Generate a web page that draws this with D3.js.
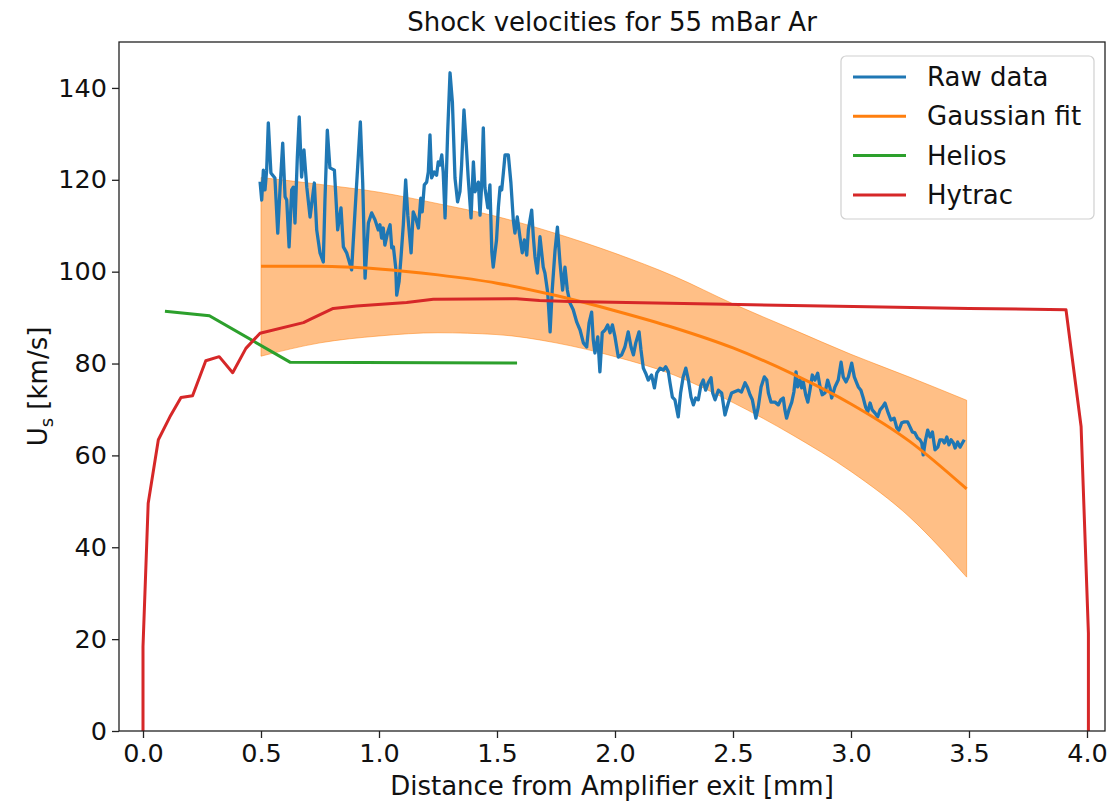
<!DOCTYPE html>
<html>
<head>
<meta charset="utf-8">
<script src="https://cdn.jsdelivr.net/npm/d3@7"></script>
<style>
  html, body { margin: 0; padding: 0; background: #fff; }
  svg { display: block; font-family: "DejaVu Sans", sans-serif; }
</style>
</head>
<body>
<svg id="chart" width="1117" height="802"></svg>
<script>
// ---------- data ----------
const title = "Shock velocities for 55 mBar Ar";
const xLabel = "Distance from Amplifier exit [mm]";
const xTicks = [0.0, 0.5, 1.0, 1.5, 2.0, 2.5, 3.0, 3.5, 4.0];
const yTicks = [0, 20, 40, 60, 80, 100, 120, 140];
const seriesNames = ["Raw data", "Gaussian fit", "Helios", "Hytrac"];
const seriesColors = ["#1f77b4", "#ff7f0e", "#2ca02c", "#d62728"];

// Raw data [mm, km/s]
const rawData = [
[0.496,119.6],[0.503,115.6],[0.510,122.1],[0.517,117.8],[0.524,122.1],[0.531,132.4],[0.542,121.5],[0.559,120.4],
[0.571,108.4],[0.581,118.4],[0.592,128.0],[0.602,116.3],[0.609,115.6],[0.619,105.4],[0.630,117.8],[0.637,118.4],
[0.644,110.6],[0.654,125.0],[0.662,133.7],[0.672,120.6],[0.682,126.5],[0.694,118.4],[0.708,111.9],[0.726,119.3],
[0.736,109.1],[0.750,104.1],[0.764,102.1],[0.771,115.6],[0.781,130.8],[0.792,122.6],[0.811,122.1],[0.825,109.1],
[0.839,113.9],[0.849,105.4],[0.863,104.1],[0.884,100.4],[0.898,112.8],[0.921,132.6],[0.931,119.3],[0.941,98.6],
[0.955,110.6],[0.969,112.8],[0.983,111.3],[0.997,109.1],[1.004,110.2],[1.011,107.3],[1.018,109.5],[1.025,105.8],
[1.037,108.6],[1.047,110.2],[1.054,105.2],[1.061,105.4],[1.071,100.8],[1.075,94.9],[1.085,97.8],[1.093,103.0],
[1.103,110.2],[1.113,120.0],[1.122,112.3],[1.136,104.1],[1.145,113.0],[1.155,111.7],[1.167,109.5],[1.177,116.0],
[1.183,113.0],[1.192,118.9],[1.202,119.5],[1.209,121.7],[1.216,129.8],[1.223,120.4],[1.234,121.7],[1.244,121.0],
[1.251,123.9],[1.258,123.2],[1.266,125.4],[1.272,121.7],[1.280,111.7],[1.291,130.4],[1.301,143.3],[1.311,136.9],
[1.322,120.4],[1.333,115.2],[1.343,117.4],[1.350,123.2],[1.360,135.2],[1.369,128.2],[1.378,120.4],[1.390,111.7],
[1.400,123.9],[1.407,117.4],[1.421,119.5],[1.428,112.3],[1.435,118.9],[1.442,131.3],[1.449,118.2],[1.461,113.9],
[1.470,118.9],[1.478,104.3],[1.484,101.0],[1.498,106.9],[1.506,114.1],[1.513,118.4],[1.520,117.8],[1.527,121.5],
[1.534,125.4],[1.548,125.4],[1.559,119.3],[1.569,111.3],[1.576,108.4],[1.586,111.9],[1.597,107.6],[1.607,104.1],
[1.616,106.9],[1.626,103.6],[1.633,109.1],[1.647,113.4],[1.654,107.6],[1.661,103.2],[1.671,99.7],[1.682,107.6],
[1.696,101.0],[1.703,99.7],[1.715,95.4],[1.725,86.9],[1.734,96.0],[1.746,104.7],[1.756,109.7],[1.767,101.9],
[1.778,96.0],[1.788,101.0],[1.798,96.0],[1.809,93.2],[1.823,91.7],[1.838,89.0],[1.852,87.3],[1.866,84.5],
[1.880,83.6],[1.890,88.8],[1.901,91.2],[1.908,85.1],[1.915,82.3],[1.927,85.8],[1.936,78.2],[1.946,86.7],
[1.958,87.3],[1.969,88.4],[1.979,86.7],[1.989,88.4],[2.000,85.8],[2.014,81.4],[2.028,81.9],[2.042,83.6],
[2.056,86.9],[2.068,83.6],[2.078,81.9],[2.088,84.5],[2.102,86.9],[2.110,83.0],[2.120,79.0],[2.130,77.9],
[2.141,76.4],[2.155,77.5],[2.167,74.7],[2.177,77.9],[2.191,79.0],[2.205,78.6],[2.215,79.3],[2.226,78.2],
[2.233,75.8],[2.243,72.7],[2.254,72.1],[2.268,68.4],[2.278,73.6],[2.289,77.1],[2.300,79.0],[2.311,76.4],
[2.322,72.7],[2.332,71.0],[2.342,72.5],[2.353,72.1],[2.364,75.3],[2.374,76.4],[2.384,74.2],[2.395,75.8],
[2.407,76.9],[2.414,73.6],[2.424,72.1],[2.438,74.2],[2.452,73.6],[2.466,68.8],[2.480,71.4],[2.494,73.6],
[2.522,74.2],[2.536,73.8],[2.551,75.8],[2.562,74.7],[2.572,73.2],[2.582,72.1],[2.590,69.9],[2.597,68.1],
[2.607,70.5],[2.619,74.9],[2.633,77.1],[2.643,76.4],[2.650,73.6],[2.661,71.6],[2.678,71.6],[2.692,71.0],
[2.703,72.1],[2.713,72.5],[2.720,69.9],[2.727,68.1],[2.737,69.9],[2.749,71.6],[2.758,73.8],[2.767,78.2],
[2.774,74.9],[2.784,76.4],[2.791,74.7],[2.798,76.0],[2.808,73.2],[2.817,71.6],[2.826,74.2],[2.836,77.5],
[2.847,76.4],[2.859,77.9],[2.869,74.9],[2.878,73.2],[2.890,73.6],[2.901,76.4],[2.911,74.7],[2.918,72.5],
[2.932,74.9],[2.946,76.4],[2.958,80.3],[2.967,77.1],[2.979,76.0],[2.989,77.1],[3.003,80.1],[3.014,77.1],
[3.024,75.8],[3.031,74.9],[3.042,74.2],[3.052,72.5],[3.062,70.5],[3.071,69.5],[3.081,71.4],[3.090,69.9],
[3.102,69.2],[3.113,68.4],[3.123,69.9],[3.133,70.5],[3.144,71.4],[3.158,69.2],[3.169,67.7],[3.183,68.1],
[3.194,66.0],[3.203,65.5],[3.215,67.1],[3.226,67.3],[3.240,67.3],[3.250,66.2],[3.260,65.1],[3.271,64.9],
[3.282,63.8],[3.292,63.4],[3.300,62.7],[3.306,60.1],[3.316,63.4],[3.325,65.5],[3.335,64.0],[3.345,65.1],
[3.356,61.2],[3.368,61.8],[3.377,63.4],[3.387,63.4],[3.396,62.7],[3.406,64.0],[3.415,62.3],[3.424,63.4],
[3.434,62.7],[3.441,61.6],[3.452,62.9],[3.462,61.8],[3.472,62.7],[3.480,63.4]
];

// Gaussian fit and its band
const fitX     = [0.5, 0.75, 1.0, 1.25, 1.5, 1.75, 2.0, 2.25, 2.5, 2.75, 3.0, 3.25, 3.49];
const fitY     = [101.2, 101.2, 100.6, 99.3, 97.5, 94.8, 91.5, 87.8, 83.4, 77.8, 71.2, 63.0, 52.7];
const bandHigh = [120.5, 119.0, 117.3, 114.8, 112.0, 108.3, 104.0, 99.0, 93.0, 87.5, 82.0, 77.0, 72.0];
const bandLow  = [81.6, 84.5, 86.0, 86.7, 86.3, 84.5, 81.5, 77.5, 71.5, 64.5, 56.5, 46.5, 33.5];

// Helios simulation
const heliosX = [0.093, 0.281, 0.623, 1.585];
const heliosY = [91.4, 90.4, 80.3, 80.1];

// Hytrac simulation
const hytracX = [0.0, 0.0, 0.022, 0.065, 0.114, 0.161, 0.21, 0.266, 0.323, 0.38, 0.436, 0.496, 0.68, 0.708,
                 0.806, 0.905, 1.117, 1.23, 1.583, 1.68, 1.81, 2.47, 3.01, 3.50, 3.911, 3.975, 4.006, 4.006];
const hytracY = [0.0, 18.4, 49.6, 63.4, 68.4, 72.6, 73.0, 80.6, 81.5, 78.0, 83.3, 86.6, 88.9, 89.6,
                 92.0, 92.5, 93.3, 94.0, 94.1, 93.7, 93.5, 92.9, 92.4, 92.0, 91.7, 66.3, 21.3, 0.0];

// ---------- layout ----------
const svg = d3.select("#chart");
const L = 119, T = 42, R = 1105, B = 731;
const x = d3.scaleLinear().domain([-0.1017, 4.0763]).range([L, R]);
const y = d3.scaleLinear().domain([0, 150]).range([B, T]);
const FS = 25.5;   // tick labels
const FL = 26;     // title, axis labels, legend

// band
const bandData = fitX.map((v, i) => [v, bandLow[i], bandHigh[i]]);
svg.append("path")
  .datum(bandData)
  .attr("d", d3.area().curve(d3.curveMonotoneX).x(d => x(d[0])).y0(d => y(d[1])).y1(d => y(d[2])))
  .attr("fill", "#ff7f0e").attr("fill-opacity", 0.5)
  .attr("stroke", "#ff7f0e").attr("stroke-opacity", 0.5).attr("stroke-width", 1);

const line = d3.line().x(d => x(d[0])).y(d => y(d[1]));

svg.append("clipPath").attr("id", "clip")
  .append("rect").attr("x", L).attr("y", T).attr("width", R - L).attr("height", B - T);
const g = svg.append("g").attr("clip-path", "url(#clip)");

g.append("path").datum(rawData).attr("d", line)
  .attr("fill", "none").attr("stroke", seriesColors[0]).attr("stroke-width", 3.3)
  .attr("stroke-linejoin", "round");

g.append("path").datum(fitX.map((v, i) => [v, fitY[i]]))
  .attr("d", d3.line().curve(d3.curveMonotoneX).x(d => x(d[0])).y(d => y(d[1])))
  .attr("fill", "none").attr("stroke", seriesColors[1]).attr("stroke-width", 3);

g.append("path").datum(heliosX.map((v, i) => [v, heliosY[i]])).attr("d", line)
  .attr("fill", "none").attr("stroke", seriesColors[2]).attr("stroke-width", 3);

g.append("path").datum(hytracX.map((v, i) => [v, hytracY[i]])).attr("d", line)
  .attr("fill", "none").attr("stroke", seriesColors[3]).attr("stroke-width", 3)
  .attr("stroke-linejoin", "round");

// axes
const xAxis = d3.axisBottom(x).tickValues(xTicks).tickFormat(d3.format(".1f")).tickSize(7).tickPadding(4);
const yAxis = d3.axisLeft(y).tickValues(yTicks).tickFormat(d3.format("d")).tickSize(7).tickPadding(5);

const gx = svg.append("g").attr("transform", `translate(0,${B})`).call(xAxis);
const gy = svg.append("g").attr("transform", `translate(${L},0)`).call(yAxis);
[gx, gy].forEach(a => {
  a.select(".domain").remove();
  a.selectAll(".tick line").attr("stroke", "#222").attr("stroke-width", 1.3);
  a.selectAll(".tick text").attr("fill", "#111").attr("font-size", FS).attr("font-family", "DejaVu Sans");
});
gx.selectAll(".tick text").attr("dy", "0.8em");

// frame
svg.append("rect").attr("x", L).attr("y", T).attr("width", R - L).attr("height", B - T)
  .attr("fill", "none").attr("stroke", "#222").attr("stroke-width", 1.3);

// title and labels
svg.append("text").attr("x", (L + R) / 2).attr("y", 31).attr("text-anchor", "middle")
  .attr("font-size", FL).attr("fill", "#111").text(title);
svg.append("text").attr("x", (L + R) / 2).attr("y", 795).attr("text-anchor", "middle")
  .attr("font-size", FL).attr("fill", "#111").text(xLabel);
const yl = svg.append("text").attr("transform", `translate(47,${(T + B) / 2}) rotate(-90)`)
  .attr("text-anchor", "middle").attr("font-size", FL).attr("fill", "#111");
yl.append("tspan").text("U");
yl.append("tspan").attr("font-size", 18).attr("dy", 6).text("s");
yl.append("tspan").attr("dy", -6).text(" [km/s]");

// legend
const lg = svg.append("g");
lg.append("rect").attr("x", 841).attr("y", 56).attr("width", 253).attr("height", 163)
  .attr("rx", 5).attr("fill", "#fff").attr("fill-opacity", 0.8)
  .attr("stroke", "#d0d0d0").attr("stroke-width", 1.2);
seriesNames.forEach((n, i) => {
  const yy = 77 + i * 39.3;
  lg.append("line").attr("x1", 853).attr("x2", 906).attr("y1", yy).attr("y2", yy)
    .attr("stroke", seriesColors[i]).attr("stroke-width", 3);
  lg.append("text").attr("x", 927).attr("y", yy + 9).attr("font-size", FL)
    .attr("fill", "#111").text(n);
});
</script>
</body>
</html>
